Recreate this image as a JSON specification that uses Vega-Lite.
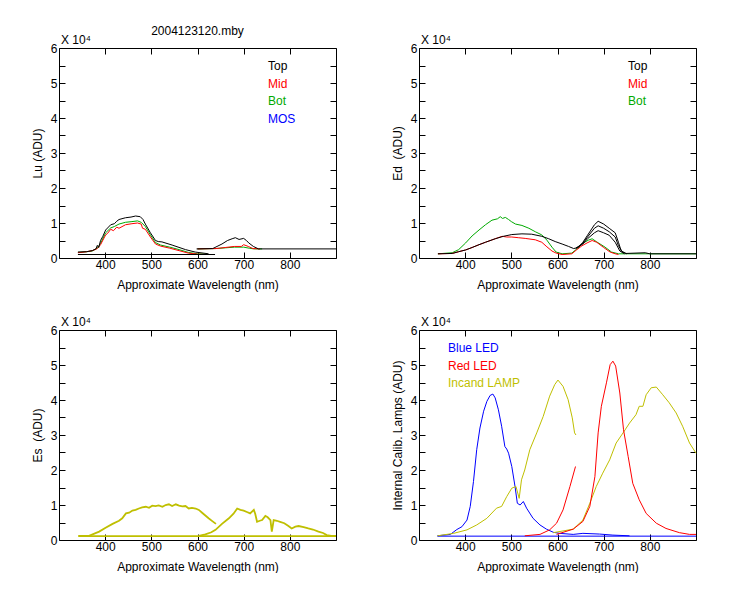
{
  "$schema": "https://vega.github.io/schema/vega-lite/v6.json",
  "autosize": {"type": "pad"},
  "padding": {"left": 30, "top": 24, "right": 0, "bottom": 0},
  "background": "#ffffff",
  "config": {
    "font": "Liberation Sans",
    "view": {"stroke": "#000000", "strokeWidth": 1},
    "axis": {
      "grid": false, "domain": false, "tickColor": "#000000", "tickSize": -6, "tickWidth": 1,
      "labelColor": "#000000", "labelFontSize": 12, "labelPadding": 8, "labelFlush": false, "labelOverlap": false,
      "titleColor": "#000000", "titleFontSize": 12, "titleFontWeight": "normal"
    },
    "axisBottom": {"labelPadding": 7},
    "legend": {
      "orient": "none", "title": null, "symbolSize": 0, "symbolStrokeWidth": 0, "symbolOpacity": 0,
      "labelOffset": 0, "labelFontSize": 12, "rowPadding": 5.5, "padding": 0, "offset": 0
    },
    "title": {"fontSize": 12, "fontWeight": "normal", "color": "#000000"},
    "line": {"strokeWidth": 1}
  },
  "datasets": {
    "lu": [
      {"series": "Bot", "scan": "a", "nm": 341, "v": 0.16}, {"series": "Bot", "scan": "a", "nm": 360, "v": 0.18},
      {"series": "Bot", "scan": "a", "nm": 372, "v": 0.2}, {"series": "Bot", "scan": "a", "nm": 383, "v": 0.28},
      {"series": "Bot", "scan": "a", "nm": 390, "v": 0.42}, {"series": "Bot", "scan": "a", "nm": 401, "v": 0.72},
      {"series": "Bot", "scan": "a", "nm": 412, "v": 0.86}, {"series": "Bot", "scan": "a", "nm": 420, "v": 0.9},
      {"series": "Bot", "scan": "a", "nm": 430, "v": 0.97}, {"series": "Bot", "scan": "a", "nm": 444, "v": 1.02},
      {"series": "Bot", "scan": "a", "nm": 458, "v": 1.04}, {"series": "Bot", "scan": "a", "nm": 470, "v": 1.06},
      {"series": "Bot", "scan": "a", "nm": 478, "v": 1.02}, {"series": "Bot", "scan": "a", "nm": 487, "v": 0.9},
      {"series": "Bot", "scan": "a", "nm": 498, "v": 0.66}, {"series": "Bot", "scan": "a", "nm": 509, "v": 0.44},
      {"series": "Bot", "scan": "a", "nm": 520, "v": 0.37}, {"series": "Bot", "scan": "a", "nm": 540, "v": 0.31},
      {"series": "Bot", "scan": "a", "nm": 560, "v": 0.24}, {"series": "Bot", "scan": "a", "nm": 580, "v": 0.16},
      {"series": "Bot", "scan": "a", "nm": 600, "v": 0.12}, {"series": "Bot", "scan": "a", "nm": 620, "v": 0.11},
      {"series": "Bot", "scan": "b", "nm": 600, "v": 0.26}, {"series": "Bot", "scan": "b", "nm": 640, "v": 0.27},
      {"series": "Bot", "scan": "b", "nm": 660, "v": 0.29}, {"series": "Bot", "scan": "b", "nm": 680, "v": 0.31},
      {"series": "Bot", "scan": "b", "nm": 700, "v": 0.31}, {"series": "Bot", "scan": "b", "nm": 712, "v": 0.28},
      {"series": "Bot", "scan": "b", "nm": 722, "v": 0.26}, {"series": "Bot", "scan": "b", "nm": 740, "v": 0.26},
      {"series": "Mid", "scan": "a", "nm": 341, "v": 0.15}, {"series": "Mid", "scan": "a", "nm": 360, "v": 0.18},
      {"series": "Mid", "scan": "a", "nm": 372, "v": 0.21}, {"series": "Mid", "scan": "a", "nm": 383, "v": 0.27},
      {"series": "Mid", "scan": "a", "nm": 390, "v": 0.38}, {"series": "Mid", "scan": "a", "nm": 401, "v": 0.66},
      {"series": "Mid", "scan": "a", "nm": 405, "v": 0.7}, {"series": "Mid", "scan": "a", "nm": 412, "v": 0.82},
      {"series": "Mid", "scan": "a", "nm": 418, "v": 0.78}, {"series": "Mid", "scan": "a", "nm": 425, "v": 0.88},
      {"series": "Mid", "scan": "a", "nm": 430, "v": 0.85}, {"series": "Mid", "scan": "a", "nm": 444, "v": 0.95},
      {"series": "Mid", "scan": "a", "nm": 458, "v": 0.98}, {"series": "Mid", "scan": "a", "nm": 470, "v": 1.0},
      {"series": "Mid", "scan": "a", "nm": 478, "v": 0.97}, {"series": "Mid", "scan": "a", "nm": 481, "v": 0.85},
      {"series": "Mid", "scan": "a", "nm": 487, "v": 0.82}, {"series": "Mid", "scan": "a", "nm": 498, "v": 0.6},
      {"series": "Mid", "scan": "a", "nm": 509, "v": 0.4}, {"series": "Mid", "scan": "a", "nm": 520, "v": 0.34},
      {"series": "Mid", "scan": "a", "nm": 540, "v": 0.28}, {"series": "Mid", "scan": "a", "nm": 560, "v": 0.21},
      {"series": "Mid", "scan": "a", "nm": 580, "v": 0.14}, {"series": "Mid", "scan": "a", "nm": 600, "v": 0.11},
      {"series": "Mid", "scan": "a", "nm": 620, "v": 0.1},
      {"series": "Mid", "scan": "b", "nm": 600, "v": 0.26}, {"series": "Mid", "scan": "b", "nm": 640, "v": 0.27},
      {"series": "Mid", "scan": "b", "nm": 660, "v": 0.3}, {"series": "Mid", "scan": "b", "nm": 680, "v": 0.33},
      {"series": "Mid", "scan": "b", "nm": 695, "v": 0.33}, {"series": "Mid", "scan": "b", "nm": 700, "v": 0.38},
      {"series": "Mid", "scan": "b", "nm": 710, "v": 0.33}, {"series": "Mid", "scan": "b", "nm": 720, "v": 0.27},
      {"series": "Mid", "scan": "b", "nm": 735, "v": 0.26},
      {"series": "Top", "scan": "a", "nm": 341, "v": 0.17}, {"series": "Top", "scan": "a", "nm": 360, "v": 0.18},
      {"series": "Top", "scan": "a", "nm": 372, "v": 0.21}, {"series": "Top", "scan": "a", "nm": 380, "v": 0.26},
      {"series": "Top", "scan": "a", "nm": 383, "v": 0.36}, {"series": "Top", "scan": "a", "nm": 386, "v": 0.3},
      {"series": "Top", "scan": "a", "nm": 390, "v": 0.5}, {"series": "Top", "scan": "a", "nm": 395, "v": 0.62},
      {"series": "Top", "scan": "a", "nm": 401, "v": 0.8}, {"series": "Top", "scan": "a", "nm": 412, "v": 0.95},
      {"series": "Top", "scan": "a", "nm": 420, "v": 0.98}, {"series": "Top", "scan": "a", "nm": 425, "v": 1.05},
      {"series": "Top", "scan": "a", "nm": 430, "v": 1.1}, {"series": "Top", "scan": "a", "nm": 444, "v": 1.15},
      {"series": "Top", "scan": "a", "nm": 456, "v": 1.17}, {"series": "Top", "scan": "a", "nm": 466, "v": 1.2},
      {"series": "Top", "scan": "a", "nm": 476, "v": 1.18}, {"series": "Top", "scan": "a", "nm": 482, "v": 1.1},
      {"series": "Top", "scan": "a", "nm": 487, "v": 0.97}, {"series": "Top", "scan": "a", "nm": 498, "v": 0.72},
      {"series": "Top", "scan": "a", "nm": 509, "v": 0.5}, {"series": "Top", "scan": "a", "nm": 515, "v": 0.47},
      {"series": "Top", "scan": "a", "nm": 523, "v": 0.46}, {"series": "Top", "scan": "a", "nm": 545, "v": 0.37},
      {"series": "Top", "scan": "a", "nm": 574, "v": 0.24}, {"series": "Top", "scan": "a", "nm": 595, "v": 0.17},
      {"series": "Top", "scan": "a", "nm": 624, "v": 0.12},
      {"series": "Top", "scan": "dark", "nm": 341, "v": 0.1}, {"series": "Top", "scan": "dark", "nm": 638, "v": 0.1},
      {"series": "Top", "scan": "b", "nm": 598, "v": 0.26}, {"series": "Top", "scan": "b", "nm": 633, "v": 0.27},
      {"series": "Top", "scan": "b", "nm": 653, "v": 0.4}, {"series": "Top", "scan": "b", "nm": 665, "v": 0.5},
      {"series": "Top", "scan": "b", "nm": 675, "v": 0.55}, {"series": "Top", "scan": "b", "nm": 682, "v": 0.58},
      {"series": "Top", "scan": "b", "nm": 690, "v": 0.53}, {"series": "Top", "scan": "b", "nm": 700, "v": 0.56},
      {"series": "Top", "scan": "b", "nm": 706, "v": 0.5}, {"series": "Top", "scan": "b", "nm": 711, "v": 0.43},
      {"series": "Top", "scan": "b", "nm": 721, "v": 0.33}, {"series": "Top", "scan": "b", "nm": 732, "v": 0.26},
      {"series": "Top", "scan": "b", "nm": 900, "v": 0.26}
    ],
    "ed": [
      {"series": "Bot", "scan": "a", "nm": 341, "v": 0.12}, {"series": "Bot", "scan": "a", "nm": 372, "v": 0.15},
      {"series": "Bot", "scan": "a", "nm": 386, "v": 0.24}, {"series": "Bot", "scan": "a", "nm": 401, "v": 0.43},
      {"series": "Bot", "scan": "a", "nm": 415, "v": 0.63}, {"series": "Bot", "scan": "a", "nm": 430, "v": 0.8},
      {"series": "Bot", "scan": "a", "nm": 444, "v": 0.95}, {"series": "Bot", "scan": "a", "nm": 458, "v": 1.08},
      {"series": "Bot", "scan": "a", "nm": 470, "v": 1.12}, {"series": "Bot", "scan": "a", "nm": 476, "v": 1.18},
      {"series": "Bot", "scan": "a", "nm": 481, "v": 1.13}, {"series": "Bot", "scan": "a", "nm": 487, "v": 1.16},
      {"series": "Bot", "scan": "a", "nm": 494, "v": 1.1}, {"series": "Bot", "scan": "a", "nm": 500, "v": 1.04},
      {"series": "Bot", "scan": "a", "nm": 509, "v": 0.97}, {"series": "Bot", "scan": "a", "nm": 523, "v": 0.93},
      {"series": "Bot", "scan": "a", "nm": 538, "v": 0.85}, {"series": "Bot", "scan": "a", "nm": 552, "v": 0.75},
      {"series": "Bot", "scan": "a", "nm": 566, "v": 0.66}, {"series": "Bot", "scan": "a", "nm": 577, "v": 0.51},
      {"series": "Bot", "scan": "a", "nm": 588, "v": 0.31}, {"series": "Bot", "scan": "a", "nm": 597, "v": 0.17},
      {"series": "Bot", "scan": "a", "nm": 610, "v": 0.12}, {"series": "Bot", "scan": "a", "nm": 631, "v": 0.14},
      {"series": "Bot", "scan": "a", "nm": 642, "v": 0.26}, {"series": "Bot", "scan": "a", "nm": 653, "v": 0.41},
      {"series": "Bot", "scan": "a", "nm": 667, "v": 0.51}, {"series": "Bot", "scan": "a", "nm": 675, "v": 0.55},
      {"series": "Bot", "scan": "a", "nm": 685, "v": 0.46}, {"series": "Bot", "scan": "a", "nm": 703, "v": 0.31},
      {"series": "Bot", "scan": "a", "nm": 717, "v": 0.17}, {"series": "Bot", "scan": "a", "nm": 732, "v": 0.12},
      {"series": "Bot", "scan": "a", "nm": 900, "v": 0.12},
      {"series": "Mid", "scan": "a", "nm": 341, "v": 0.12}, {"series": "Mid", "scan": "a", "nm": 372, "v": 0.13},
      {"series": "Mid", "scan": "a", "nm": 386, "v": 0.18}, {"series": "Mid", "scan": "a", "nm": 401, "v": 0.23},
      {"series": "Mid", "scan": "a", "nm": 415, "v": 0.3}, {"series": "Mid", "scan": "a", "nm": 430, "v": 0.38},
      {"series": "Mid", "scan": "a", "nm": 444, "v": 0.45}, {"series": "Mid", "scan": "a", "nm": 465, "v": 0.55},
      {"series": "Mid", "scan": "a", "nm": 480, "v": 0.62}, {"series": "Mid", "scan": "a", "nm": 490, "v": 0.6},
      {"series": "Mid", "scan": "a", "nm": 501, "v": 0.6}, {"series": "Mid", "scan": "a", "nm": 515, "v": 0.58},
      {"series": "Mid", "scan": "a", "nm": 530, "v": 0.56}, {"series": "Mid", "scan": "a", "nm": 552, "v": 0.52},
      {"series": "Mid", "scan": "a", "nm": 566, "v": 0.45}, {"series": "Mid", "scan": "a", "nm": 577, "v": 0.32},
      {"series": "Mid", "scan": "a", "nm": 588, "v": 0.2}, {"series": "Mid", "scan": "a", "nm": 597, "v": 0.14},
      {"series": "Mid", "scan": "a", "nm": 610, "v": 0.1}, {"series": "Mid", "scan": "a", "nm": 631, "v": 0.12},
      {"series": "Mid", "scan": "a", "nm": 642, "v": 0.24}, {"series": "Mid", "scan": "a", "nm": 653, "v": 0.35},
      {"series": "Mid", "scan": "a", "nm": 664, "v": 0.43}, {"series": "Mid", "scan": "a", "nm": 675, "v": 0.5},
      {"series": "Mid", "scan": "a", "nm": 685, "v": 0.45}, {"series": "Mid", "scan": "a", "nm": 700, "v": 0.3},
      {"series": "Mid", "scan": "a", "nm": 714, "v": 0.17}, {"series": "Mid", "scan": "a", "nm": 725, "v": 0.12},
      {"series": "Mid", "scan": "a", "nm": 732, "v": 0.1},
      {"series": "Top", "scan": "a", "nm": 341, "v": 0.12}, {"series": "Top", "scan": "a", "nm": 372, "v": 0.13},
      {"series": "Top", "scan": "a", "nm": 386, "v": 0.18}, {"series": "Top", "scan": "a", "nm": 401, "v": 0.23},
      {"series": "Top", "scan": "a", "nm": 415, "v": 0.3}, {"series": "Top", "scan": "a", "nm": 430, "v": 0.38},
      {"series": "Top", "scan": "a", "nm": 444, "v": 0.45}, {"series": "Top", "scan": "a", "nm": 465, "v": 0.55},
      {"series": "Top", "scan": "a", "nm": 483, "v": 0.62}, {"series": "Top", "scan": "a", "nm": 501, "v": 0.67},
      {"series": "Top", "scan": "a", "nm": 523, "v": 0.69}, {"series": "Top", "scan": "a", "nm": 544, "v": 0.68},
      {"series": "Top", "scan": "a", "nm": 566, "v": 0.62}, {"series": "Top", "scan": "a", "nm": 581, "v": 0.55},
      {"series": "Top", "scan": "a", "nm": 595, "v": 0.47}, {"series": "Top", "scan": "a", "nm": 610, "v": 0.4},
      {"series": "Top", "scan": "a", "nm": 624, "v": 0.33}, {"series": "Top", "scan": "a", "nm": 635, "v": 0.27},
      {"series": "Top", "scan": "a", "nm": 645, "v": 0.3}, {"series": "Top", "scan": "a", "nm": 655, "v": 0.45},
      {"series": "Top", "scan": "a", "nm": 665, "v": 0.65}, {"series": "Top", "scan": "a", "nm": 680, "v": 0.95},
      {"series": "Top", "scan": "a", "nm": 688, "v": 1.05}, {"series": "Top", "scan": "a", "nm": 700, "v": 0.97},
      {"series": "Top", "scan": "a", "nm": 712, "v": 0.85}, {"series": "Top", "scan": "a", "nm": 725, "v": 0.72},
      {"series": "Top", "scan": "a", "nm": 732, "v": 0.45}, {"series": "Top", "scan": "a", "nm": 738, "v": 0.2},
      {"series": "Top", "scan": "a", "nm": 748, "v": 0.13}, {"series": "Top", "scan": "a", "nm": 790, "v": 0.15},
      {"series": "Top", "scan": "a", "nm": 800, "v": 0.12}, {"series": "Top", "scan": "a", "nm": 900, "v": 0.12},
      {"series": "Top", "scan": "b", "nm": 640, "v": 0.28}, {"series": "Top", "scan": "b", "nm": 655, "v": 0.42},
      {"series": "Top", "scan": "b", "nm": 665, "v": 0.6}, {"series": "Top", "scan": "b", "nm": 680, "v": 0.85},
      {"series": "Top", "scan": "b", "nm": 688, "v": 0.92}, {"series": "Top", "scan": "b", "nm": 700, "v": 0.85},
      {"series": "Top", "scan": "b", "nm": 712, "v": 0.75}, {"series": "Top", "scan": "b", "nm": 725, "v": 0.6},
      {"series": "Top", "scan": "b", "nm": 732, "v": 0.35}, {"series": "Top", "scan": "b", "nm": 740, "v": 0.18},
      {"series": "Top", "scan": "b", "nm": 750, "v": 0.12},
      {"series": "Top", "scan": "c", "nm": 640, "v": 0.28}, {"series": "Top", "scan": "c", "nm": 655, "v": 0.4},
      {"series": "Top", "scan": "c", "nm": 665, "v": 0.55}, {"series": "Top", "scan": "c", "nm": 680, "v": 0.72},
      {"series": "Top", "scan": "c", "nm": 688, "v": 0.78}, {"series": "Top", "scan": "c", "nm": 700, "v": 0.72},
      {"series": "Top", "scan": "c", "nm": 712, "v": 0.65}, {"series": "Top", "scan": "c", "nm": 725, "v": 0.45},
      {"series": "Top", "scan": "c", "nm": 735, "v": 0.2}, {"series": "Top", "scan": "c", "nm": 745, "v": 0.12}
    ],
    "es": [
      {"scan": "a", "nm": 342, "v": 0.12}, {"scan": "a", "nm": 365, "v": 0.12}, {"scan": "a", "nm": 387, "v": 0.24},
      {"scan": "a", "nm": 401, "v": 0.35}, {"scan": "a", "nm": 416, "v": 0.46}, {"scan": "a", "nm": 430, "v": 0.55},
      {"scan": "a", "nm": 437, "v": 0.62}, {"scan": "a", "nm": 445, "v": 0.76}, {"scan": "a", "nm": 452, "v": 0.78},
      {"scan": "a", "nm": 459, "v": 0.84}, {"scan": "a", "nm": 466, "v": 0.86}, {"scan": "a", "nm": 473, "v": 0.9},
      {"scan": "a", "nm": 480, "v": 0.93}, {"scan": "a", "nm": 488, "v": 0.95}, {"scan": "a", "nm": 495, "v": 0.92},
      {"scan": "a", "nm": 502, "v": 0.98}, {"scan": "a", "nm": 509, "v": 0.97}, {"scan": "a", "nm": 516, "v": 0.99},
      {"scan": "a", "nm": 524, "v": 0.95}, {"scan": "a", "nm": 531, "v": 1.0}, {"scan": "a", "nm": 538, "v": 1.02},
      {"scan": "a", "nm": 545, "v": 0.97}, {"scan": "a", "nm": 553, "v": 1.02}, {"scan": "a", "nm": 560, "v": 0.98},
      {"scan": "a", "nm": 567, "v": 0.96}, {"scan": "a", "nm": 574, "v": 0.97}, {"scan": "a", "nm": 581, "v": 0.9},
      {"scan": "a", "nm": 588, "v": 0.92}, {"scan": "a", "nm": 596, "v": 0.9}, {"scan": "a", "nm": 603, "v": 0.86},
      {"scan": "a", "nm": 610, "v": 0.78}, {"scan": "a", "nm": 617, "v": 0.7}, {"scan": "a", "nm": 624, "v": 0.62},
      {"scan": "a", "nm": 632, "v": 0.54}, {"scan": "a", "nm": 640, "v": 0.46},
      {"scan": "b", "nm": 603, "v": 0.12}, {"scan": "b", "nm": 617, "v": 0.16}, {"scan": "b", "nm": 630, "v": 0.22},
      {"scan": "b", "nm": 639, "v": 0.29}, {"scan": "b", "nm": 653, "v": 0.46}, {"scan": "b", "nm": 668, "v": 0.62},
      {"scan": "b", "nm": 678, "v": 0.75}, {"scan": "b", "nm": 686, "v": 0.9}, {"scan": "b", "nm": 693, "v": 0.86},
      {"scan": "b", "nm": 700, "v": 0.84}, {"scan": "b", "nm": 707, "v": 0.8}, {"scan": "b", "nm": 714, "v": 0.76},
      {"scan": "b", "nm": 722, "v": 0.86}, {"scan": "b", "nm": 725, "v": 0.75}, {"scan": "b", "nm": 729, "v": 0.52},
      {"scan": "b", "nm": 735, "v": 0.55}, {"scan": "b", "nm": 740, "v": 0.57}, {"scan": "b", "nm": 747, "v": 0.69},
      {"scan": "b", "nm": 752, "v": 0.65}, {"scan": "b", "nm": 758, "v": 0.57}, {"scan": "b", "nm": 761, "v": 0.24},
      {"scan": "b", "nm": 765, "v": 0.57}, {"scan": "b", "nm": 772, "v": 0.55}, {"scan": "b", "nm": 779, "v": 0.52},
      {"scan": "b", "nm": 788, "v": 0.48}, {"scan": "b", "nm": 797, "v": 0.4}, {"scan": "b", "nm": 804, "v": 0.33},
      {"scan": "b", "nm": 812, "v": 0.38}, {"scan": "b", "nm": 819, "v": 0.4}, {"scan": "b", "nm": 830, "v": 0.37},
      {"scan": "b", "nm": 840, "v": 0.33}, {"scan": "b", "nm": 850, "v": 0.3}, {"scan": "b", "nm": 862, "v": 0.24},
      {"scan": "b", "nm": 872, "v": 0.2}, {"scan": "b", "nm": 880, "v": 0.14}, {"scan": "b", "nm": 890, "v": 0.12},
      {"scan": "b", "nm": 900, "v": 0.12},
      {"scan": "dark", "nm": 342, "v": 0.11}, {"scan": "dark", "nm": 900, "v": 0.11}
    ],
    "cal": [
      {"series": "Blue LED", "scan": "a", "nm": 340, "v": 0.12}, {"series": "Blue LED", "scan": "a", "nm": 368, "v": 0.16},
      {"series": "Blue LED", "scan": "a", "nm": 382, "v": 0.3}, {"series": "Blue LED", "scan": "a", "nm": 393, "v": 0.38},
      {"series": "Blue LED", "scan": "a", "nm": 404, "v": 0.57}, {"series": "Blue LED", "scan": "a", "nm": 411, "v": 0.96},
      {"series": "Blue LED", "scan": "a", "nm": 418, "v": 1.67}, {"series": "Blue LED", "scan": "a", "nm": 425, "v": 2.58},
      {"series": "Blue LED", "scan": "a", "nm": 432, "v": 3.2}, {"series": "Blue LED", "scan": "a", "nm": 440, "v": 3.68},
      {"series": "Blue LED", "scan": "a", "nm": 447, "v": 3.96}, {"series": "Blue LED", "scan": "a", "nm": 454, "v": 4.13},
      {"series": "Blue LED", "scan": "a", "nm": 460, "v": 4.17}, {"series": "Blue LED", "scan": "a", "nm": 465, "v": 4.06},
      {"series": "Blue LED", "scan": "a", "nm": 472, "v": 3.72}, {"series": "Blue LED", "scan": "a", "nm": 479, "v": 3.25},
      {"series": "Blue LED", "scan": "a", "nm": 486, "v": 2.67}, {"series": "Blue LED", "scan": "a", "nm": 490, "v": 2.6},
      {"series": "Blue LED", "scan": "a", "nm": 494, "v": 2.48}, {"series": "Blue LED", "scan": "a", "nm": 501, "v": 2.1},
      {"series": "Blue LED", "scan": "a", "nm": 508, "v": 1.53}, {"series": "Blue LED", "scan": "a", "nm": 513, "v": 1.05},
      {"series": "Blue LED", "scan": "a", "nm": 519, "v": 1.0}, {"series": "Blue LED", "scan": "a", "nm": 526, "v": 1.1},
      {"series": "Blue LED", "scan": "a", "nm": 533, "v": 0.91}, {"series": "Blue LED", "scan": "a", "nm": 547, "v": 0.62},
      {"series": "Blue LED", "scan": "a", "nm": 562, "v": 0.43}, {"series": "Blue LED", "scan": "a", "nm": 576, "v": 0.31},
      {"series": "Blue LED", "scan": "a", "nm": 591, "v": 0.22}, {"series": "Blue LED", "scan": "a", "nm": 605, "v": 0.19},
      {"series": "Blue LED", "scan": "a", "nm": 634, "v": 0.16}, {"series": "Blue LED", "scan": "a", "nm": 655, "v": 0.19},
      {"series": "Blue LED", "scan": "a", "nm": 691, "v": 0.17}, {"series": "Blue LED", "scan": "a", "nm": 720, "v": 0.14},
      {"series": "Blue LED", "scan": "a", "nm": 756, "v": 0.12},
      {"series": "Blue LED", "scan": "dark", "nm": 340, "v": 0.11}, {"series": "Blue LED", "scan": "dark", "nm": 900, "v": 0.11},
      {"series": "Incand LAMP", "scan": "a", "nm": 340, "v": 0.12}, {"series": "Incand LAMP", "scan": "a", "nm": 375, "v": 0.19},
      {"series": "Incand LAMP", "scan": "a", "nm": 404, "v": 0.29}, {"series": "Incand LAMP", "scan": "a", "nm": 425, "v": 0.43},
      {"series": "Incand LAMP", "scan": "a", "nm": 447, "v": 0.62}, {"series": "Incand LAMP", "scan": "a", "nm": 468, "v": 0.91},
      {"series": "Incand LAMP", "scan": "a", "nm": 479, "v": 0.96}, {"series": "Incand LAMP", "scan": "a", "nm": 490, "v": 1.24},
      {"series": "Incand LAMP", "scan": "a", "nm": 501, "v": 1.48}, {"series": "Incand LAMP", "scan": "a", "nm": 510, "v": 1.53},
      {"series": "Incand LAMP", "scan": "a", "nm": 517, "v": 1.19}, {"series": "Incand LAMP", "scan": "a", "nm": 522, "v": 1.72},
      {"series": "Incand LAMP", "scan": "a", "nm": 529, "v": 2.0}, {"series": "Incand LAMP", "scan": "a", "nm": 540, "v": 2.58},
      {"series": "Incand LAMP", "scan": "a", "nm": 555, "v": 3.06}, {"series": "Incand LAMP", "scan": "a", "nm": 569, "v": 3.53},
      {"series": "Incand LAMP", "scan": "a", "nm": 583, "v": 4.11}, {"series": "Incand LAMP", "scan": "a", "nm": 594, "v": 4.44},
      {"series": "Incand LAMP", "scan": "a", "nm": 601, "v": 4.57}, {"series": "Incand LAMP", "scan": "a", "nm": 612, "v": 4.39},
      {"series": "Incand LAMP", "scan": "a", "nm": 623, "v": 4.01}, {"series": "Incand LAMP", "scan": "a", "nm": 632, "v": 3.49},
      {"series": "Incand LAMP", "scan": "a", "nm": 637, "v": 3.06}, {"series": "Incand LAMP", "scan": "a", "nm": 640, "v": 3.0},
      {"series": "Incand LAMP", "scan": "b", "nm": 591, "v": 0.21}, {"series": "Incand LAMP", "scan": "b", "nm": 634, "v": 0.31},
      {"series": "Incand LAMP", "scan": "b", "nm": 655, "v": 0.57}, {"series": "Incand LAMP", "scan": "b", "nm": 670, "v": 1.05},
      {"series": "Incand LAMP", "scan": "b", "nm": 684, "v": 1.53}, {"series": "Incand LAMP", "scan": "b", "nm": 698, "v": 1.91},
      {"series": "Incand LAMP", "scan": "b", "nm": 713, "v": 2.29}, {"series": "Incand LAMP", "scan": "b", "nm": 727, "v": 2.77},
      {"series": "Incand LAMP", "scan": "b", "nm": 742, "v": 3.06}, {"series": "Incand LAMP", "scan": "b", "nm": 756, "v": 3.34},
      {"series": "Incand LAMP", "scan": "b", "nm": 770, "v": 3.58}, {"series": "Incand LAMP", "scan": "b", "nm": 777, "v": 3.82},
      {"series": "Incand LAMP", "scan": "b", "nm": 785, "v": 3.82}, {"series": "Incand LAMP", "scan": "b", "nm": 792, "v": 4.15},
      {"series": "Incand LAMP", "scan": "b", "nm": 803, "v": 4.35}, {"series": "Incand LAMP", "scan": "b", "nm": 814, "v": 4.37},
      {"series": "Incand LAMP", "scan": "b", "nm": 828, "v": 4.15}, {"series": "Incand LAMP", "scan": "b", "nm": 842, "v": 3.92},
      {"series": "Incand LAMP", "scan": "b", "nm": 857, "v": 3.63}, {"series": "Incand LAMP", "scan": "b", "nm": 871, "v": 3.25},
      {"series": "Incand LAMP", "scan": "b", "nm": 886, "v": 2.77}, {"series": "Incand LAMP", "scan": "b", "nm": 900, "v": 2.48},
      {"series": "Red LED", "scan": "a", "nm": 529, "v": 0.12}, {"series": "Red LED", "scan": "a", "nm": 562, "v": 0.16},
      {"series": "Red LED", "scan": "a", "nm": 583, "v": 0.29}, {"series": "Red LED", "scan": "a", "nm": 598, "v": 0.48},
      {"series": "Red LED", "scan": "a", "nm": 612, "v": 0.86}, {"series": "Red LED", "scan": "a", "nm": 627, "v": 1.53},
      {"series": "Red LED", "scan": "a", "nm": 639, "v": 2.1},
      {"series": "Red LED", "scan": "b", "nm": 598, "v": 0.16}, {"series": "Red LED", "scan": "b", "nm": 634, "v": 0.31},
      {"series": "Red LED", "scan": "b", "nm": 655, "v": 0.53}, {"series": "Red LED", "scan": "b", "nm": 670, "v": 0.96},
      {"series": "Red LED", "scan": "b", "nm": 681, "v": 1.81}, {"series": "Red LED", "scan": "b", "nm": 688, "v": 3.06},
      {"series": "Red LED", "scan": "b", "nm": 695, "v": 3.82}, {"series": "Red LED", "scan": "b", "nm": 706, "v": 4.49},
      {"series": "Red LED", "scan": "b", "nm": 714, "v": 5.01}, {"series": "Red LED", "scan": "b", "nm": 720, "v": 5.11},
      {"series": "Red LED", "scan": "b", "nm": 726, "v": 4.97}, {"series": "Red LED", "scan": "b", "nm": 735, "v": 4.2},
      {"series": "Red LED", "scan": "b", "nm": 743, "v": 3.15}, {"series": "Red LED", "scan": "b", "nm": 753, "v": 2.39},
      {"series": "Red LED", "scan": "b", "nm": 763, "v": 1.62}, {"series": "Red LED", "scan": "b", "nm": 777, "v": 1.15},
      {"series": "Red LED", "scan": "b", "nm": 792, "v": 0.76}, {"series": "Red LED", "scan": "b", "nm": 814, "v": 0.48},
      {"series": "Red LED", "scan": "b", "nm": 835, "v": 0.33}, {"series": "Red LED", "scan": "b", "nm": 864, "v": 0.21},
      {"series": "Red LED", "scan": "b", "nm": 886, "v": 0.16}, {"series": "Red LED", "scan": "b", "nm": 900, "v": 0.16}
    ],
    "scale": [{"t": "X 10⁴"}]
  },
  "columns": 2,
  "bounds": "flush",
  "spacing": {"row": 72, "column": 83},
  "resolve": {"scale": {"color": "independent"}, "legend": {"color": "independent"}},
  "concat": [
    {
      "width": 277, "height": 210,
      "title": {"text": "2004123120.mby", "frame": "group", "offset": -4},
      "resolve": {"axis": {"x": "independent", "y": "independent"}},
      "layer": [
        {
          "data": {"name": "lu"},
          "mark": "line",
          "encoding": {
            "x": {"field": "nm", "type": "quantitative", "scale": {"domain": [300, 900], "nice": false, "zero": false},
                  "axis": {"values": [400, 500, 600, 700, 800], "title": "Approximate Wavelength (nm)", "titlePadding": 9}},
            "y": {"field": "v", "type": "quantitative", "scale": {"domain": [0, 6], "nice": false},
                  "axis": {"values": [0, 0.5, 1, 1.5, 2, 2.5, 3, 3.5, 4, 4.5, 5, 5.5, 6], "labelExpr": "datum.value % 1 ? '' : format(datum.value, 'd')", "title": "Lu (ADU)", "titlePadding": 6}},
            "color": {"field": "series", "type": "nominal",
                      "scale": {"domain": ["Top", "Mid", "Bot", "MOS"], "range": ["#000000", "#ff0000", "#00aa00", "#0000ff"]},
                      "legend": {"legendX": 197, "legendY": 12, "labelColor": {"expr": "datum.label == 'Mid' ? '#ff0000' : datum.label == 'Bot' ? '#00aa00' : datum.label == 'MOS' ? '#0000ff' : '#000000'"}}},
            "detail": {"field": "scan", "type": "nominal"}
          }
        },
        {
          "data": {"name": "scale"},
          "mark": {"type": "text", "align": "left", "baseline": "bottom", "dx": 2, "dy": -1, "fontSize": 12},
          "encoding": {
            "x": {"datum": 300, "type": "quantitative", "axis": {"orient": "top", "values": [400, 500, 600, 700, 800], "labels": false, "title": null}},
            "y": {"datum": 6, "type": "quantitative", "axis": {"orient": "right", "values": [0, 0.5, 1, 1.5, 2, 2.5, 3, 3.5, 4, 4.5, 5, 5.5, 6], "labels": false, "title": null}},
            "text": {"field": "t"}
          }
        }
      ]
    },
    {
      "width": 277, "height": 210,
      "resolve": {"axis": {"x": "independent", "y": "independent"}},
      "layer": [
        {
          "data": {"name": "ed"},
          "mark": "line",
          "encoding": {
            "x": {"field": "nm", "type": "quantitative", "scale": {"domain": [300, 900], "nice": false, "zero": false},
                  "axis": {"values": [400, 500, 600, 700, 800], "title": "Approximate Wavelength (nm)", "titlePadding": 9}},
            "y": {"field": "v", "type": "quantitative", "scale": {"domain": [0, 6], "nice": false},
                  "axis": {"values": [0, 0.5, 1, 1.5, 2, 2.5, 3, 3.5, 4, 4.5, 5, 5.5, 6], "labelExpr": "datum.value % 1 ? '' : format(datum.value, 'd')", "title": "Ed\u00a0 (ADU)", "titlePadding": 6}},
            "color": {"field": "series", "type": "nominal",
                      "scale": {"domain": ["Top", "Mid", "Bot"], "range": ["#000000", "#ff0000", "#00aa00"]},
                      "legend": {"legendX": 197, "legendY": 12, "labelColor": {"expr": "datum.label == 'Mid' ? '#ff0000' : datum.label == 'Bot' ? '#00aa00' : '#000000'"}}},
            "detail": {"field": "scan", "type": "nominal"}
          }
        },
        {
          "data": {"name": "scale"},
          "mark": {"type": "text", "align": "left", "baseline": "bottom", "dx": 2, "dy": -1, "fontSize": 12},
          "encoding": {
            "x": {"datum": 300, "type": "quantitative", "axis": {"orient": "top", "values": [400, 500, 600, 700, 800], "labels": false, "title": null}},
            "y": {"datum": 6, "type": "quantitative", "axis": {"orient": "right", "values": [0, 0.5, 1, 1.5, 2, 2.5, 3, 3.5, 4, 4.5, 5, 5.5, 6], "labels": false, "title": null}},
            "text": {"field": "t"}
          }
        }
      ]
    },
    {
      "width": 277, "height": 210,
      "resolve": {"axis": {"x": "independent", "y": "independent"}},
      "layer": [
        {
          "data": {"name": "es"},
          "mark": {"type": "line", "strokeWidth": 1.8, "color": "#bfbf00"},
          "encoding": {
            "x": {"field": "nm", "type": "quantitative", "scale": {"domain": [300, 900], "nice": false, "zero": false},
                  "axis": {"values": [400, 500, 600, 700, 800], "title": "Approximate Wavelength (nm)", "titlePadding": 9}},
            "y": {"field": "v", "type": "quantitative", "scale": {"domain": [0, 6], "nice": false},
                  "axis": {"values": [0, 0.5, 1, 1.5, 2, 2.5, 3, 3.5, 4, 4.5, 5, 5.5, 6], "labelExpr": "datum.value % 1 ? '' : format(datum.value, 'd')", "title": "Es\u00a0 (ADU)", "titlePadding": 6}},
            "detail": {"field": "scan", "type": "nominal"}
          }
        },
        {
          "data": {"name": "scale"},
          "mark": {"type": "text", "align": "left", "baseline": "bottom", "dx": 2, "dy": -1, "fontSize": 12},
          "encoding": {
            "x": {"datum": 300, "type": "quantitative", "axis": {"orient": "top", "values": [400, 500, 600, 700, 800], "labels": false, "title": null}},
            "y": {"datum": 6, "type": "quantitative", "axis": {"orient": "right", "values": [0, 0.5, 1, 1.5, 2, 2.5, 3, 3.5, 4, 4.5, 5, 5.5, 6], "labels": false, "title": null}},
            "text": {"field": "t"}
          }
        }
      ]
    },
    {
      "width": 277, "height": 210,
      "resolve": {"axis": {"x": "independent", "y": "independent"}},
      "layer": [
        {
          "data": {"name": "cal"},
          "mark": "line",
          "encoding": {
            "x": {"field": "nm", "type": "quantitative", "scale": {"domain": [300, 900], "nice": false, "zero": false},
                  "axis": {"values": [400, 500, 600, 700, 800], "title": "Approximate Wavelength (nm)", "titlePadding": 9}},
            "y": {"field": "v", "type": "quantitative", "scale": {"domain": [0, 6], "nice": false},
                  "axis": {"values": [0, 0.5, 1, 1.5, 2, 2.5, 3, 3.5, 4, 4.5, 5, 5.5, 6], "labelExpr": "datum.value % 1 ? '' : format(datum.value, 'd')", "title": "Internal Calib. Lamps (ADU)", "titlePadding": 6}},
            "color": {"field": "series", "type": "nominal",
                      "scale": {"domain": ["Blue LED", "Red LED", "Incand LAMP"], "range": ["#0000ff", "#ff0000", "#bfbf00"]},
                      "legend": {"legendX": 17, "legendY": 12, "labelColor": {"expr": "datum.label == 'Blue LED' ? '#0000ff' : datum.label == 'Red LED' ? '#ff0000' : '#bfbf00'"}}},
            "detail": {"field": "scan", "type": "nominal"}
          }
        },
        {
          "data": {"name": "scale"},
          "mark": {"type": "text", "align": "left", "baseline": "bottom", "dx": 2, "dy": -1, "fontSize": 12},
          "encoding": {
            "x": {"datum": 300, "type": "quantitative", "axis": {"orient": "top", "values": [400, 500, 600, 700, 800], "labels": false, "title": null}},
            "y": {"datum": 6, "type": "quantitative", "axis": {"orient": "right", "values": [0, 0.5, 1, 1.5, 2, 2.5, 3, 3.5, 4, 4.5, 5, 5.5, 6], "labels": false, "title": null}},
            "text": {"field": "t"}
          }
        }
      ]
    }
  ]
}
